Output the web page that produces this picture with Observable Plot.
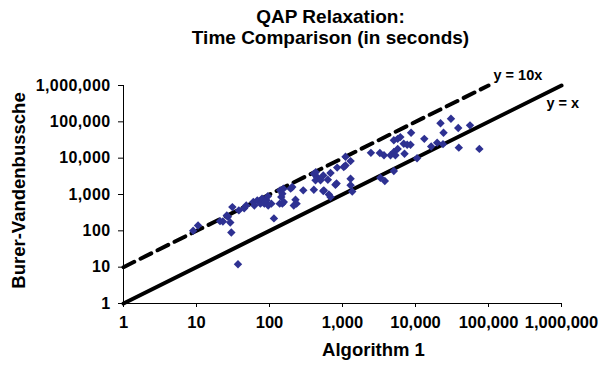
<!DOCTYPE html>
<html><head><meta charset="utf-8">
<script src="https://cdn.jsdelivr.net/npm/d3@7"></script>
<script src="https://cdn.jsdelivr.net/npm/@observablehq/plot@0.6"></script>
<style>body{margin:0;background:#fff;} svg{display:block;}</style>
</head><body><div id="chart"></div>
<script>
const algorithm1 = [9, 10.5, 21, 23, 27, 29, 26, 30, 31, 38, 45, 48, 37, 60, 62, 68, 75, 79, 85, 91, 95, 96, 106, 115, 138, 145, 140, 155, 150, 195, 205, 227, 235, 215, 157, 150, 290, 405, 405, 450, 427, 430, 545, 545, 650, 630, 685, 830, 845, 1100, 1290, 1100, 1290, 1290, 1360, 500, 685, 555, 800, 1040, 2450, 3250, 3700, 4550, 5050, 5300, 5050, 5700, 6200, 5700, 6900, 7700, 8550, 7070, 8700, 5050, 3300, 3800, 10500, 13200, 16400, 19800, 22000, 23800, 24200, 30600, 38500, 39200, 55800, 75000];
const burerVandenbussche = [100, 140, 185, 180, 245, 170, 265, 90, 450, 365, 420, 500, 12, 620, 500, 690, 560, 770, 560, 690, 890, 500, 560, 220, 560, 850, 1300, 1450, 560, 1450, 1600, 720, 560, 500, 620, 1050, 1300, 1350, 3700, 3000, 2450, 4100, 3350, 1250, 1000, 2550, 3900, 2000, 5500, 11000, 8300, 6300, 2700, 1800, 1200, 2450, 850, 1300, 1850, 5700, 14000, 13800, 12000, 12000, 14700, 12000, 31000, 34000, 38000, 18000, 25000, 23500, 23500, 13300, 50000, 4450, 2900, 2350, 9900, 34000, 21000, 26700, 91000, 24300, 50000, 122000, 68000, 19500, 80000, 18000];
const xTicks = [1, 10, 100, 1000, 10000, 100000, 1000000];
const yTicks = [1, 10, 100, 1000, 10000, 100000, 1000000];
const titleLines = ["QAP Relaxation:", "Time Comparison (in seconds)"];
const xLabel = "Algorithm 1";
const yLabel = "Burer-Vandenbussche";
const refLabels = ["y = x", "y = 10x"];
const refFactors = [1, 10];
const refStartX = [1, 1];
const refEndX = [1000000, 100000];

const points = algorithm1.map((x, i) => ({x, y: burerVandenbussche[i]}));
const refLine = i => [refStartX[i], refEndX[i]].map(x => ({x, y: refFactors[i] * x, label: refLabels[i]}));
const lineEq = refLine(0), lineTen = refLine(1);
const fmt = d3.format(",");
const font = '"Liberation Sans", Arial, Helvetica, sans-serif';
const mid = {textAnchor: "middle", lineAnchor: "middle"};

const plot = Plot.plot({
  width: 610,
  height: 365,
  marginLeft: 123,
  marginRight: 49,
  marginTop: 85,
  marginBottom: 62,
  style: {fontFamily: font, fontWeight: "bold", color: "black", background: "white"},
  x: {type: "log", domain: [1, 1000000]},
  y: {type: "log", domain: [1, 1000000]},
  marks: [
    Plot.axisX({ticks: xTicks, tickFormat: fmt, tickSize: 4, tickPadding: 8.5, fontSize: 16.5, label: null}),
    Plot.axisY({ticks: yTicks, tickFormat: fmt, tickSize: 5, tickPadding: 8, fontSize: 16, label: null}),
    Plot.ruleX([1], {stroke: "black", strokeWidth: 1}),
    Plot.ruleY([1], {stroke: "black", strokeWidth: 1}),
    Plot.line(lineEq, {x: "x", y: "y", stroke: "black", strokeWidth: 4}),
    Plot.line(lineTen, {x: "x", y: "y", stroke: "black", strokeWidth: 4, strokeDasharray: "12,7"}),
    Plot.text([lineTen[1]], {x: "x", y: "y", text: "label", textAnchor: "start", lineAnchor: "middle", dx: 5, dy: -10, fontSize: 14.5, ariaLabel: "reflabel"}),
    Plot.text([lineEq[1]], {x: "x", y: "y", text: "label", textAnchor: "start", lineAnchor: "middle", dx: -15, dy: 18, fontSize: 14.5, ariaLabel: "reflabel"}),
    Plot.dot(points, {x: "x", y: "y", symbol: "diamond2", r: 3.8, fill: "#2e3192", stroke: "none"}),
    Plot.text([titleLines[0]], {...mid, frameAnchor: "top", text: d => d, dx: -12, dy: -69, fontSize: 19, ariaLabel: "title"}),
    Plot.text([titleLines[1]], {...mid, frameAnchor: "top", text: d => d, dx: -12, dy: -48, fontSize: 19, ariaLabel: "title"}),
    Plot.text([xLabel], {...mid, frameAnchor: "bottom", text: d => d, dx: 31, dy: 47, fontSize: 18.5, ariaLabel: "xlabel"}),
    Plot.text([yLabel], {...mid, frameAnchor: "left", text: d => d, rotate: -90, dx: -104, dy: -4, fontSize: 18.5})
  ]
});
const svg = d3.select(plot);
svg.selectAll('g[aria-label="y-axis tick label"] text').style("letter-spacing", "0.4px");
svg.selectAll('g[aria-label="title"] text').style("letter-spacing", "0.25px");
svg.selectAll('g[aria-label="xlabel"] text').style("letter-spacing", "1.4px");
svg.selectAll('g[aria-label="reflabel"] text').style("letter-spacing", "0.5px");
document.getElementById("chart").appendChild(plot);
</script>
</body></html>
